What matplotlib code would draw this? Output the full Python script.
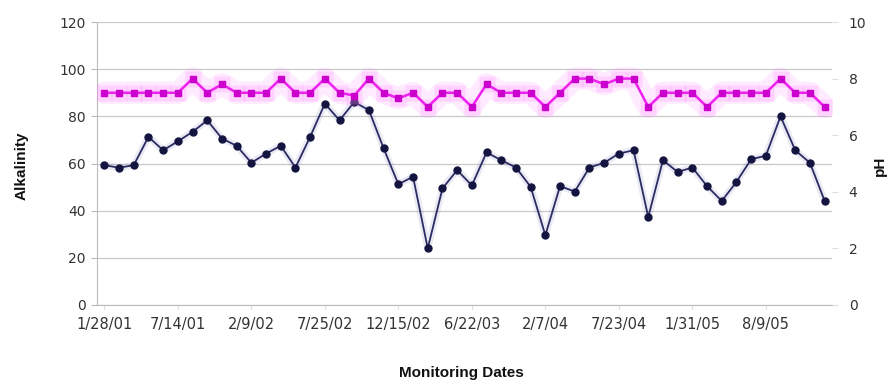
import matplotlib
matplotlib.use("Agg")
import matplotlib.pyplot as plt
import numpy as np

# monitoring record: one sample per visit, plotted on a category axis
tick_labels = ["1/28/01", "7/14/01", "2/9/02", "7/25/02", "12/15/02",
               "6/22/03", "2/7/04", "7/23/04", "1/31/05", "8/9/05"]

alkalinity = [59.3, 58.2, 59.3, 71.3, 65.6, 69.4, 73.4, 78.3, 70.6, 67.5,
              60.3, 64.2, 67.5, 58.3, 71.3, 85.4, 78.3, 86.1, 82.6, 66.4,
              51.2, 54.4, 24.0, 49.4, 57.2, 50.7, 64.7, 61.4, 58.3, 50.1,
              29.6, 50.4, 48.1, 58.3, 60.3, 64.2, 65.6, 37.3, 61.4, 56.4,
              58.3, 50.4, 44.1, 52.2, 61.8, 63.3, 80.0, 65.6, 60.3, 44.1]

ph = [7.5, 7.5, 7.5, 7.5, 7.5, 7.5, 8.0, 7.5, 7.8, 7.5,
      7.5, 7.5, 8.0, 7.5, 7.5, 8.0, 7.5, 7.4, 8.0, 7.5,
      7.3, 7.5, 7.0, 7.5, 7.5, 7.0, 7.8, 7.5, 7.5, 7.5,
      7.0, 7.5, 8.0, 8.0, 7.8, 8.0, 8.0, 7.0, 7.5, 7.5,
      7.5, 7.0, 7.5, 7.5, 7.5, 7.5, 8.0, 7.5, 7.5, 7.0]

label_step = 5

x = np.arange(len(alkalinity))
tick_color = "#333333"
grid_color = "#c8c8c8"

fig = plt.figure(figsize=(8.96, 3.81), dpi=100)
ax = fig.add_axes([97 / 896, 76 / 381, 735 / 896, 283 / 381])
ax2 = ax.twinx()

ax.set_ylim(0, 120)
ax.set_yticks(np.arange(0, 121, 20))
ax2.set_ylim(0, 10)
ax2.set_yticks(np.arange(0, 11, 2))
ax.set_xlim(-0.5, len(x) - 0.5)
ax.set_xticks(x[::label_step])
ax.set_xticklabels(tick_labels)

ax.grid(axis="y", color=grid_color, lw=0.9)
ax.set_axisbelow(True)
for a in (ax, ax2):
    for side in ("top", "right"):
        a.spines[side].set_visible(False)
    a.spines["left"].set_visible(False)
    a.spines["bottom"].set_visible(False)
ax.spines["left"].set_visible(True)
ax.spines["left"].set_color("#bbbbbb")
ax.spines["bottom"].set_visible(True)
ax.spines["bottom"].set_color("#bbbbbb")

ax.tick_params(axis="y", length=4, color="#bbbbbb", labelsize=10,
               labelcolor=tick_color, pad=4)
ax.tick_params(axis="x", length=3, color="#dddddd", labelsize=10.5,
               labelcolor=tick_color, pad=6)
ax2.tick_params(axis="y", length=4, color="#dddddd", labelsize=10,
                labelcolor=tick_color, pad=8)

# alkalinity: navy line with round markers
ax.plot(x, alkalinity, color="#5a5aa8", lw=5, alpha=0.12, zorder=2)
ax.plot(x, alkalinity, color="#2b2b63", lw=1.3, marker="o", ms=5,
        mfc="#141440", mec="#141440", zorder=3)

# pH: magenta line with square markers and soft pink glow
ax2.plot(x, ph, color="#ff66ff", lw=16, alpha=0.13,
         solid_capstyle="round", zorder=2)
ax2.plot(x, ph, color="#ff88ff", lw=0, marker="s", ms=11, alpha=0.25,
         mec="none", zorder=2)
ax2.plot(x, ph, color="#ee22ee", lw=1.8, marker="s", ms=5,
         mfc="#cc00cc", mec="#cc00cc", zorder=3)

label_font = dict(family="Liberation Sans", fontsize=11, fontweight="bold",
                  color="#111111")
fig.text(22 / 896, 1 - 166 / 381, "Alkalinity", rotation=90,
         ha="center", va="center", **label_font)
fig.text(880 / 896, 1 - 166 / 381, "pH", rotation=90,
         ha="center", va="center", **label_font)
fig.text(461 / 896, 1 - 373 / 381, "Monitoring Dates",
         ha="center", va="center", **label_font)

fig.savefig("out.png", dpi=100, facecolor="white")
